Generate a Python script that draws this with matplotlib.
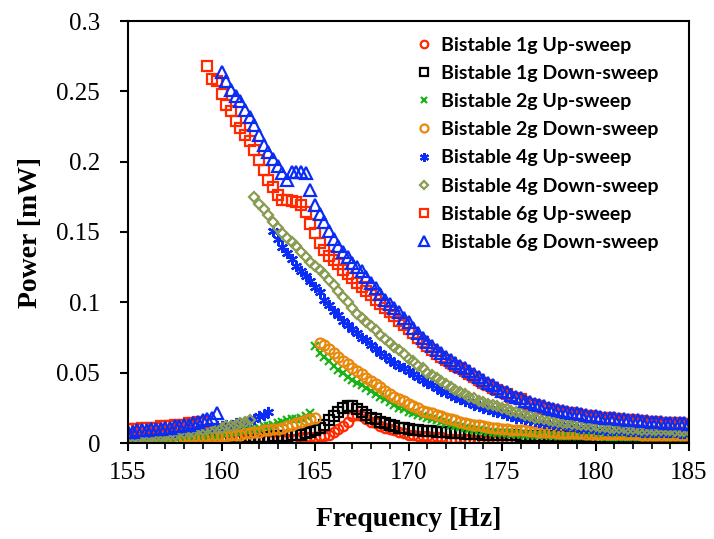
import numpy as np
import matplotlib
matplotlib.use("Agg")
import matplotlib.pyplot as plt
from matplotlib.ticker import MultipleLocator, FixedLocator, FixedFormatter

# ---------------- data ----------------
FREQ = np.linspace(155.0, 185.0, 121)   # sweep frequency grid [Hz], 0.25 Hz steps

up_1g = [
    0.002, 0.002, 0.002, 0.002, 0.002, 0.002, 0.002, 0.002,
    0.002, 0.002, 0.002, 0.002, 0.002, 0.002, 0.002, 0.002,
    0.002, 0.002, 0.002, 0.002, 0.002, 0.002, 0.002, 0.003,
    0.003, 0.003, 0.003, 0.003, 0.003, 0.003, 0.003, 0.003,
    0.003, 0.003, 0.003, 0.003, 0.003, 0.004, 0.004, 0.004,
    0.004, 0.005, 0.005, 0.006, 0.008, 0.010, 0.012, 0.015,
    0.019, 0.020, 0.019, 0.017, 0.015, 0.014, 0.012, 0.011,
    0.010, 0.009, 0.008, 0.007, 0.006, 0.006, 0.005, 0.005,
    0.005, 0.004, 0.004, 0.004, 0.003, 0.003, 0.003, 0.003,
    0.003, 0.003, 0.002, 0.002, 0.002, 0.002, 0.002, 0.002,
    0.002, 0.002, 0.002, 0.002, 0.002, 0.002, 0.002, 0.002,
    0.002, 0.002, 0.002, 0.002, 0.002, 0.002, 0.002, 0.002,
    0.002, 0.002, 0.002, 0.002, 0.002, 0.002, 0.002, 0.002,
    0.002, 0.002, 0.002, 0.002, 0.002, 0.002, 0.002, 0.002,
    0.002, 0.002, 0.002, 0.002, 0.002, 0.002, 0.002, 0.002,
    0.002]

down_1g = [
    0.002, 0.002, 0.002, 0.002, 0.002, 0.002, 0.002, 0.002,
    0.002, 0.002, 0.002, 0.003, 0.003, 0.003, 0.003, 0.003,
    0.003, 0.003, 0.003, 0.003, 0.003, 0.003, 0.004, 0.004,
    0.004, 0.004, 0.004, 0.004, 0.004, 0.004, 0.004, 0.005,
    0.005, 0.005, 0.005, 0.006, 0.006, 0.006, 0.007, 0.008,
    0.009, 0.011, 0.013, 0.016, 0.019, 0.022, 0.025, 0.026,
    0.026, 0.024, 0.022, 0.020, 0.018, 0.017, 0.015, 0.014,
    0.013, 0.012, 0.011, 0.0105, 0.010, 0.0095, 0.009, 0.0088,
    0.0085, 0.0082, 0.008, 0.0077, 0.0075, 0.0072, 0.007, 0.0068,
    0.0066, 0.0064, 0.0063, 0.0062, 0.006, 0.0059, 0.0058, 0.0057,
    0.0056, 0.0055, 0.0054, 0.0054, 0.0053, 0.0052, 0.0052, 0.0051,
    0.005, 0.005, 0.005, 0.0049, 0.0049, 0.0048, 0.0048, 0.0048,
    0.0047, 0.0047, 0.0047, 0.0046, 0.0046, 0.0046, 0.0045, 0.0045,
    0.0045, 0.0045, 0.0044, 0.0044, 0.0044, 0.0044, 0.0043, 0.0043,
    0.0043, 0.0043, 0.0042, 0.0042, 0.0042, 0.0042, 0.0041, 0.0041,
    0.0041]

up_2g = [
    0.002, 0.002, 0.002, 0.002, 0.002, 0.003, 0.003, 0.003,
    0.003, 0.003, 0.004, 0.004, 0.004, 0.004, 0.005, 0.005,
    0.005, 0.006, 0.006, 0.006, 0.007, 0.007, 0.008, 0.008,
    0.009, 0.009, 0.010, 0.010, 0.011, 0.012, 0.012, 0.013,
    0.014, 0.015, 0.016, 0.017, 0.017, 0.018, 0.019, 0.021,
    0.069, 0.064, 0.061, 0.058, 0.055, 0.052, 0.050, 0.047,
    0.045, 0.043, 0.041, 0.039, 0.037, 0.035, 0.033, 0.031,
    0.029, 0.027, 0.025, 0.024, 0.022, 0.021, 0.020, 0.019,
    0.018, 0.017, 0.016, 0.015, 0.014, 0.013, 0.012, 0.0115,
    0.011, 0.010, 0.0095, 0.009, 0.0085, 0.008, 0.0075, 0.0072,
    0.007, 0.0068, 0.0066, 0.0064, 0.0062, 0.006, 0.0058, 0.0057,
    0.0056, 0.0055, 0.0054, 0.0053, 0.0052, 0.0051, 0.005, 0.005,
    0.0049, 0.0049, 0.0048, 0.0048, 0.0047, 0.0047, 0.0046, 0.0046,
    0.0045, 0.0045, 0.0045, 0.0044, 0.0044, 0.0044, 0.0043, 0.0043,
    0.0043, 0.0042, 0.0042, 0.0042, 0.0041, 0.0041, 0.0041, 0.004,
    0.004]

down_2g = [
    0.002, 0.002, 0.002, 0.002, 0.002, 0.002, 0.003, 0.003,
    0.003, 0.003, 0.003, 0.003, 0.004, 0.004, 0.004, 0.004,
    0.004, 0.005, 0.005, 0.005, 0.005, 0.005, 0.006, 0.006,
    0.006, 0.007, 0.007, 0.008, 0.008, 0.009, 0.009, 0.010,
    0.010, 0.011, 0.012, 0.013, 0.014, 0.015, 0.016, 0.017,
    0.018, 0.071, 0.070, 0.067, 0.064, 0.061, 0.058, 0.056,
    0.053, 0.051, 0.049, 0.046, 0.044, 0.042, 0.040, 0.037,
    0.035, 0.033, 0.031, 0.030, 0.028, 0.026, 0.025, 0.023,
    0.022, 0.021, 0.020, 0.019, 0.018, 0.017, 0.016, 0.015,
    0.014, 0.0135, 0.013, 0.0125, 0.012, 0.0115, 0.011, 0.0105,
    0.010, 0.0098, 0.0095, 0.0093, 0.0091, 0.0089, 0.0087, 0.0085,
    0.0081, 0.0079, 0.0077, 0.0075, 0.0074, 0.0072, 0.0071, 0.007,
    0.0069, 0.0068, 0.0067, 0.0066, 0.0065, 0.0065, 0.0064, 0.0064,
    0.0063, 0.0063, 0.0062, 0.0062, 0.0061, 0.0061, 0.006, 0.006,
    0.006, 0.0059, 0.0059, 0.0058, 0.0058, 0.0058, 0.0057, 0.0057,
    0.0057]

up_4g = [
    0.005, 0.005, 0.006, 0.006, 0.006, 0.007, 0.007, 0.007,
    0.008, 0.008, 0.008, 0.009, 0.009, 0.009, 0.010, 0.010,
    0.010, 0.011, 0.011, 0.012, 0.012, 0.013, 0.013, 0.014,
    0.014, 0.015, 0.016, 0.017, 0.019, 0.020, 0.022, 0.151,
    0.145, 0.139, 0.135, 0.131, 0.126, 0.122, 0.119, 0.115,
    0.111, 0.107, 0.102, 0.098, 0.094, 0.091, 0.087, 0.084,
    0.081, 0.078, 0.075, 0.073, 0.070, 0.067, 0.064, 0.062,
    0.059, 0.057, 0.055, 0.053, 0.051, 0.049, 0.047, 0.045,
    0.043, 0.041, 0.039, 0.037, 0.036, 0.034, 0.033, 0.031,
    0.030, 0.029, 0.027, 0.026, 0.025, 0.024, 0.023, 0.022,
    0.021, 0.020, 0.019, 0.018, 0.0175, 0.017, 0.016, 0.0155,
    0.015, 0.0145, 0.014, 0.0135, 0.013, 0.0125, 0.012, 0.012,
    0.0115, 0.011, 0.011, 0.0105, 0.010, 0.010, 0.0095, 0.0095,
    0.009, 0.009, 0.009, 0.0085, 0.0085, 0.0085, 0.008, 0.008,
    0.008, 0.008, 0.0075, 0.0075, 0.0075, 0.0075, 0.007, 0.007,
    0.007]

down_4g = [
    0.003, 0.003, 0.003, 0.004, 0.004, 0.004, 0.005, 0.005,
    0.005, 0.006, 0.006, 0.007, 0.007, 0.008, 0.008, 0.009,
    0.009, 0.010, 0.010, 0.011, 0.011, 0.012, 0.012, 0.013,
    0.014, 0.015, 0.016, 0.175, 0.170, 0.166, 0.162, 0.157,
    0.153, 0.149, 0.146, 0.143, 0.140, 0.136, 0.132, 0.129,
    0.126, 0.123, 0.120, 0.116, 0.112, 0.108, 0.104, 0.100,
    0.096, 0.092, 0.089, 0.086, 0.083, 0.080, 0.077, 0.074,
    0.071, 0.068, 0.066, 0.063, 0.060, 0.058, 0.055, 0.053,
    0.050, 0.048, 0.046, 0.044, 0.042, 0.040, 0.038, 0.036,
    0.035, 0.033, 0.032, 0.030, 0.029, 0.028, 0.027, 0.026,
    0.025, 0.024, 0.023, 0.022, 0.021, 0.020, 0.019, 0.018,
    0.0175, 0.017, 0.016, 0.0155, 0.015, 0.0145, 0.014, 0.0135,
    0.0135, 0.013, 0.0125, 0.012, 0.012, 0.0115, 0.0115, 0.011,
    0.011, 0.0105, 0.0105, 0.010, 0.010, 0.010, 0.0095, 0.0095,
    0.0095, 0.009, 0.009, 0.009, 0.009, 0.0085, 0.0085, 0.0085,
    0.0085]

up_6g = [
    0.010, 0.010, 0.010, 0.011, 0.011, 0.011, 0.011, 0.012,
    0.012, 0.012, 0.013, 0.013, 0.013, 0.014, 0.014, 0.015,
    0.015, 0.268, 0.259, 0.257, 0.248, 0.240, 0.236, 0.229,
    0.224, 0.219, 0.215, 0.208, 0.201, 0.194, 0.187, 0.182,
    0.176, 0.173, 0.173, 0.172, 0.171, 0.169, 0.164, 0.156,
    0.149, 0.142, 0.137, 0.133, 0.130, 0.127, 0.123, 0.120,
    0.117, 0.114, 0.111, 0.108, 0.105, 0.102, 0.099, 0.096,
    0.093, 0.090, 0.087, 0.084, 0.081, 0.078, 0.075, 0.072,
    0.069, 0.066, 0.063, 0.061, 0.059, 0.057, 0.055, 0.053,
    0.051, 0.049, 0.047, 0.045, 0.043, 0.041, 0.039, 0.038,
    0.036, 0.035, 0.033, 0.032, 0.031, 0.029, 0.028, 0.027,
    0.026, 0.025, 0.024, 0.0235, 0.023, 0.022, 0.0215, 0.021,
    0.0205, 0.020, 0.0195, 0.019, 0.0185, 0.018, 0.018, 0.0175,
    0.017, 0.017, 0.0165, 0.016, 0.016, 0.0155, 0.0155, 0.015,
    0.015, 0.015, 0.0145, 0.0145, 0.014, 0.014, 0.014, 0.0135,
    0.0135]

down_6g = [
    0.008, 0.008, 0.009, 0.009, 0.009, 0.010, 0.010, 0.010,
    0.011, 0.011, 0.012, 0.012, 0.013, 0.013, 0.014, 0.015,
    0.016, 0.017, 0.018, 0.021, 0.264, 0.257, 0.251, 0.247,
    0.243, 0.237, 0.232, 0.226, 0.219, 0.212, 0.207, 0.202,
    0.197, 0.192, 0.187, 0.193, 0.193, 0.193, 0.192, 0.180,
    0.169, 0.163, 0.157, 0.151, 0.145, 0.140, 0.136, 0.132,
    0.128, 0.125, 0.122, 0.118, 0.114, 0.110, 0.106, 0.102,
    0.099, 0.096, 0.093, 0.089, 0.086, 0.082, 0.078, 0.075,
    0.072, 0.069, 0.066, 0.064, 0.061, 0.059, 0.057, 0.055,
    0.053, 0.051, 0.049, 0.047, 0.045, 0.043, 0.041, 0.039,
    0.037, 0.036, 0.034, 0.033, 0.032, 0.030, 0.029, 0.028,
    0.027, 0.026, 0.025, 0.024, 0.0235, 0.023, 0.022, 0.0215,
    0.021, 0.0205, 0.020, 0.0195, 0.019, 0.0185, 0.018, 0.018,
    0.0175, 0.017, 0.017, 0.0165, 0.016, 0.016, 0.0155, 0.0155,
    0.015, 0.015, 0.015, 0.0145, 0.0145, 0.014, 0.014, 0.014,
    0.0135]

series_labels = [
    "Bistable 1g Up-sweep", "Bistable 1g Down-sweep",
    "Bistable 2g Up-sweep", "Bistable 2g Down-sweep",
    "Bistable 4g Up-sweep", "Bistable 4g Down-sweep",
    "Bistable 6g Up-sweep", "Bistable 6g Down-sweep",
]
series_values = [up_1g, down_1g, up_2g, down_2g, up_4g, down_4g, up_6g, down_6g]

x_ticks = [155, 160, 165, 170, 175, 180, 185]
y_ticks = [0, 0.05, 0.1, 0.15, 0.2, 0.25, 0.3]
y_tick_labels = ["0", "0.05", "0.1", "0.15", "0.2", "0.25", "0.3"]

# ---------------- styles ----------------
styles = [
    dict(marker="o", color="#FF2A00", ms=6.8),
    dict(marker="s", color="#000000", ms=6.8),
    dict(marker="x", color="#19B219", ms=6.0),
    dict(marker="o", color="#E8890C", ms=7.2),
    dict(marker=(6, 2, 0), color="#0A2CF5", ms=8.0),
    dict(marker="D", color="#8A9B52", ms=5.6),
    dict(marker="s", color="#FF2A00", ms=7.0),
    dict(marker="^", color="#0A2CF5", ms=8.2),
]

fig = plt.figure(figsize=(7.14, 5.39), dpi=100)
ax = fig.add_axes([128 / 714, 1 - 443 / 539, (689 - 128) / 714, (443 - 21) / 539])

for lab, vals, st in zip(series_labels, series_values, styles):
    filled = st["marker"] in ("x", (6, 2, 0))
    ax.plot(FREQ, vals, linestyle="none", marker=st["marker"], markersize=st["ms"],
            markerfacecolor=st["color"] if filled else "none",
            markeredgecolor=st["color"], markeredgewidth=1.6, label=lab)

ax.set_xlim(155, 185)
ax.set_ylim(0, 0.3)
ax.xaxis.set_major_locator(FixedLocator(x_ticks))
ax.xaxis.set_minor_locator(MultipleLocator(1))
ax.yaxis.set_major_locator(FixedLocator(y_ticks))
ax.yaxis.set_major_formatter(FixedFormatter(y_tick_labels))

for s in ax.spines.values():
    s.set_linewidth(1.5)
ax.tick_params(axis="both", which="major", direction="out", length=6, width=1.5,
               labelsize=18, top=False, right=False)
ax.tick_params(axis="x", which="major", pad=8)
ax.tick_params(axis="y", which="major", pad=14)
ax.tick_params(axis="x", which="minor", direction="out", length=4, width=1.2)
for t in ax.get_xticklabels() + ax.get_yticklabels():
    t.set_fontfamily("Liberation Serif")

ax.set_xlabel("Frequency [Hz]", fontsize=20, fontweight="bold",
              fontfamily="Liberation Serif", labelpad=16)
ax.set_ylabel("Power [mW]", fontsize=20, fontweight="bold",
              fontfamily="Liberation Serif", labelpad=10)

leg = ax.legend(loc="upper left", bbox_to_anchor=(0.518, 0.963), frameon=False,
                prop=dict(family="Lato", weight="bold", size=14),
                numpoints=1, handlelength=0.6, handletextpad=0.55, markerscale=0.8,
                labelspacing=0.575, borderpad=0, borderaxespad=0)

fig.savefig("out.png", dpi=100)
